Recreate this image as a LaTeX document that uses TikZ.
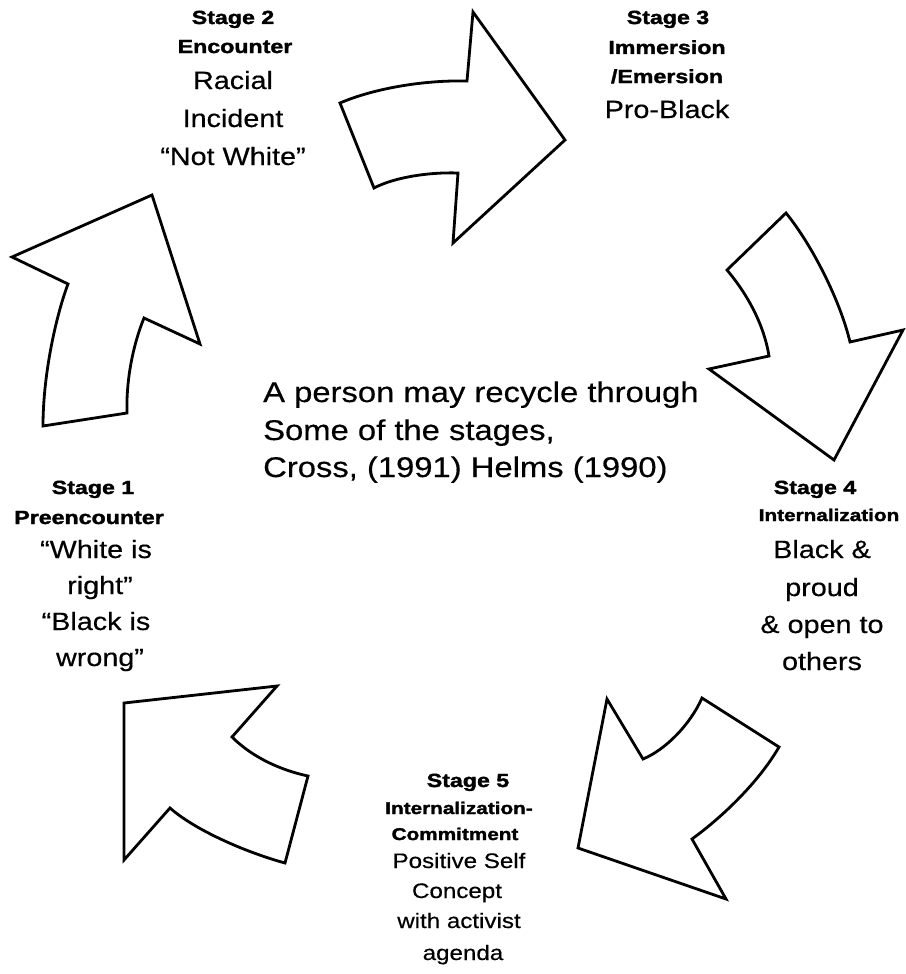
\documentclass[tikz,border=0pt]{standalone}
\usepackage{fontspec}
\setmainfont{Liberation Sans}[FakeStretch=1.15, FakeBold=0.4]
\newfontfamily\hdfont{Liberation Sans}[UprightFont={* Bold}, FakeStretch=1.22, FakeBold=1.8]
\begin{document}
\begin{tikzpicture}[x=1pt,y=-1pt,
  arr/.style={draw=black, fill=white, line width=2.8pt, line join=miter},
  hd/.style={anchor=base, inner sep=0pt, font=\hdfont\fontsize{19}{22}\selectfont},
  hds/.style={anchor=base, inner sep=0pt, font=\hdfont\fontsize{17}{20}\selectfont},
  bd/.style={anchor=base, inner sep=0pt, font=\fontsize{25}{30}\selectfont},
  bds/.style={anchor=base, inner sep=0pt, font=\fontsize{21}{25}\selectfont},
  ctr/.style={anchor=base west, inner sep=0pt, font=\fontsize{28.5}{34}\selectfont}]
\useasboundingbox (0,0) rectangle (905,974);
\fill[white] (0,0) rectangle (905,974);

% Arrow 1 (left, pointing up)
\draw[arr] (152,195) -- (12,257) -- (68,284)
  .. controls (57,313) and (43,372) .. (43,426)
  -- (127,413)
  .. controls (126,380) and (133,345) .. (144,318)
  -- (200,344) -- cycle;
% Arrow 2 (top, pointing right)
\draw[arr] (473,12) -- (565,140) -- (453,243) -- (458,173)
  .. controls (430,172) and (395,177) .. (374,188)
  -- (340,103)
  .. controls (375,88) and (425,80) .. (467,81)
  -- cycle;
% Arrow 3 (right, pointing down)
\draw[arr] (786,213)
  .. controls (812,245) and (840,300) .. (850,342)
  -- (903,330) -- (834,460) -- (709,369) -- (769,356)
  .. controls (764,325) and (748,295) .. (727,270)
  -- cycle;
% Arrow 4 (bottom right, pointing down-left)
\draw[arr] (607,699) -- (643,759)
  .. controls (665,750) and (690,725) .. (702,698)
  -- (779,747)
  .. controls (760,780) and (725,815) .. (692,839)
  -- (726,899) -- (578,848) -- cycle;
% Arrow 5 (bottom left, pointing up-left)
\draw[arr] (124,703) -- (277,686) -- (232,737)
  .. controls (252,757) and (280,770) .. (308,776)
  -- (285,863)
  .. controls (245,852) and (195,830) .. (170,808)
  -- (124,860) -- cycle;

% Stage 2
\node[hd] (s2a) at (233,24) {Stage 2};
\node[hd] (s2b) at (235,53) {Encounter};
\node[bd] (s2c) at (233,89) {Racial};
\node[bd] (s2d) at (233,127) {Incident};
\node[bd] (s2e) at (233,165) {“Not White”};

% Stage 3
\node[hd] (s3a) at (668,24) {Stage 3};
\node[hd] (s3b) at (667,54) {Immersion};
\node[hd] (s3c) at (667,83) {/Emersion};
\node[bd] (s3d) at (667,118) {Pro-Black};

% Center text
\node[ctr] (c1) at (263,402) {A person may recycle through};
\node[ctr] (c2) at (263,440) {Some of the stages,};
\node[ctr] (c3) at (263,477) {Cross, (1991) Helms (1990)};

% Stage 1
\node[hd] (s1a) at (93,494) {Stage 1};
\node[hd] (s1b) at (89,524) {Preencounter};
\node[bd] (s1c) at (96,558) {“White is};
\node[bd] (s1d) at (100,594) {right”};
\node[bd] (s1e) at (96,630) {“Black is};
\node[bd] (s1f) at (100,666) {wrong”};

% Stage 4
\node[hd] (s4a) at (815,494) {Stage 4};
\node[hds] (s4b) at (829,521) {Internalization};
\node[bd] (s4c) at (822,558) {Black \&};
\node[bd] (s4d) at (822,596) {proud};
\node[bd] (s4e) at (822,633) {\& open to};
\node[bd] (s4f) at (822,670) {others};

% Stage 5
\node[hd] (s5a) at (468,787) {Stage 5};
\node[hds] (s5b) at (459,814) {Internalization-};
\node[hds] (s5c) at (455,840) {Commitment};
\node[bds] (s5d) at (459,868) {Positive Self};
\node[bds] (s5e) at (457,898) {Concept};
\node[bds] (s5f) at (459,928) {with activist};
\node[bds] (s5g) at (463,960) {agenda};
\end{tikzpicture}
\end{document}
